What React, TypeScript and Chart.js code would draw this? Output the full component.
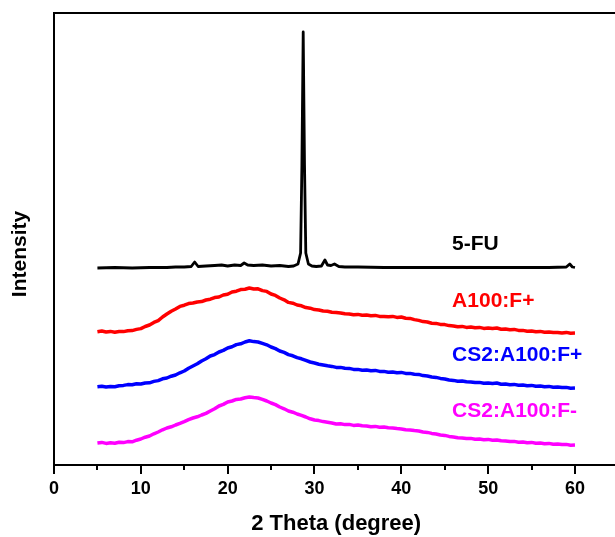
import React, { useEffect, useRef } from "react";
import { Chart, registerables } from "chart.js";

Chart.register(...registerables);

// 2θ sampling (degrees) for the three amorphous patterns
const theta = [
  5, 5.5, 6, 6.5, 7, 7.5, 8, 8.5, 9, 9.5,
  10, 10.5, 11, 11.5, 12, 12.5, 13, 13.5, 14, 14.5,
  15, 15.5, 16, 16.5, 17, 17.5, 18, 18.5, 19, 19.5,
  20, 20.5, 21, 21.5, 22, 22.5, 23, 23.5, 24, 24.5,
  25, 25.5, 26, 26.5, 27, 27.5, 28, 28.5, 29, 29.5,
  30, 30.5, 31, 31.5, 32, 32.5, 33, 33.5, 34, 34.5,
  35, 35.5, 36, 36.5, 37, 37.5, 38, 38.5, 39, 39.5,
  40, 40.5, 41, 41.5, 42, 42.5, 43, 43.5, 44, 44.5,
  45, 45.5, 46, 46.5, 47, 47.5, 48, 48.5, 49, 49.5,
  50, 50.5, 51, 51.5, 52, 52.5, 53, 53.5, 54, 54.5,
  55, 55.5, 56, 56.5, 57, 57.5, 58, 58.5, 59, 59.5,
  60,
];

const a100Fplus = [
  133.3, 134, 133, 133.6, 132.8, 133.5, 133.4, 134.2, 134.4, 135.6,
  136.4, 138.5, 140, 142.6, 144.4, 148, 151, 153.8, 156, 158.6,
  159.8, 161.4, 162, 163, 163.4, 165, 165.8, 167.4, 168, 170,
  170.8, 173, 173.8, 175.4, 175.8, 177, 176, 176.2, 174.4, 173.6,
  171, 169.6, 167, 165.2, 162.6, 161.8, 160, 159.2, 157.4, 156.8,
  155.4, 155, 154, 153.8, 152.8, 152.6, 152, 151.2, 151, 150.2,
  150.6, 149.8, 150, 149.2, 149.6, 148.6, 148.6, 148.2, 148.6, 147.6,
  148, 146.8, 146.6, 145.4, 144.6, 143.4, 143, 141.8, 141.6, 140.6,
  140.4, 139.4, 139, 138.2, 138.6, 137.6, 138, 137.2, 137.6, 136.6,
  137, 136.4, 137, 135.8, 136, 135.2, 135.6, 134.6, 134.6, 133.8,
  134, 133.2, 133.6, 132.8, 133, 132.4, 132.6, 132, 132.6, 131.8,
  132,
];

const cs2A100Fplus = [
  78.3, 78.8, 78, 78.6, 78.2, 79.2, 79.6, 80.4, 80.2, 81.2,
  81, 82, 82.2, 83.6, 84.4, 86.2, 87, 88.8, 90, 92.2,
  94, 96.8, 99, 101.2, 104, 106.2, 109, 110.4, 113, 114.6,
  117, 118.2, 120.4, 121.2, 123, 124.2, 123.4, 123, 121.6, 120.2,
  118, 116.4, 114, 112.6, 110.4, 109.2, 107.4, 106.2, 104.6, 103,
  102, 100.8, 100, 99.2, 98.6, 97.6, 97.6, 96.8, 96.6, 95.6,
  95.6, 94.8, 95, 94.2, 94.6, 93.6, 93.6, 92.8, 93, 92.2,
  92.6, 91.6, 91.6, 90.8, 90.6, 89.4, 89, 88, 87.6, 86.6,
  86, 85, 84.6, 83.8, 84, 83.2, 83, 82.4, 82.6, 81.8,
  82, 81.4, 82, 80.8, 81, 80.2, 80.6, 79.8, 80, 79.2,
  79.6, 78.8, 79, 78.2, 78.6, 77.8, 78, 77.4, 77.6, 76.8,
  77,
];

const cs2A100Fminus = [
  22, 22.6, 21.6, 22.2, 21.8, 22.8, 22.4, 23.4, 23.2, 24.8,
  26, 27.8, 29, 31.2, 33, 35.2, 37, 38.2, 40, 41.6,
  43.4, 45.4, 47, 48.2, 50, 51.6, 54, 56.2, 59, 60.6,
  63, 64, 65.6, 66, 67.2, 68, 67.4, 67, 65.6, 64,
  62, 60.4, 58, 56.2, 54, 52.8, 51, 49.6, 48, 46.2,
  45, 44.4, 43.4, 42.8, 42, 41, 41.2, 40.4, 40.6, 39.6,
  40, 39.2, 39, 38.2, 38.6, 37.8, 38, 37.2, 37, 36.4,
  36, 35.2, 35, 34.4, 34, 33, 32.6, 31.6, 31, 30,
  29.6, 28.6, 28, 27.2, 27, 26.4, 26.6, 25.8, 26, 25.2,
  25.6, 24.8, 25, 24.2, 24, 23.4, 23.6, 22.8, 23, 22.2,
  22.6, 21.8, 22, 21.2, 21.6, 20.8, 21, 20.4, 20.6, 19.8,
  20,
];

// crystalline 5-FU pattern
const fuTheta = [
  5, 7, 9, 11, 13, 14, 15, 15.8, 16.2, 16.6,
  17.5, 18.5, 19.3, 20, 20.8, 21.5, 21.9, 22.3, 23, 24,
  25, 26, 27, 27.6, 28.1, 28.4, 28.55, 28.7, 28.85, 29.0,
  29.3, 29.7, 30.2, 30.8, 31.2, 31.5, 31.9, 32.3, 32.8, 33.5,
  35, 38, 42, 46, 50, 54, 57, 59, 59.4, 59.7,
  60,
];
const fuIntensity = [
  197, 197.5, 197, 197.5, 197.5, 198, 198, 198.5, 203, 198.5,
  199, 199.5, 200, 199, 200, 199.5, 202, 200, 199.5, 200,
  199, 199.5, 198.5, 199, 201, 212, 300, 433, 300, 212,
  201, 199, 198.5, 199, 205, 200, 199.5, 201, 198.5, 198,
  198, 197.5, 197.5, 197.5, 197.5, 197.5, 197.5, 198, 201, 198,
  197.5,
];

const seriesNames = ["5-FU", "A100:F+", "CS2:A100:F+", "CS2:A100:F-"];
const seriesColors = ["#000000", "#ff0000", "#0000ff", "#ff00ff"];
const labelTheta = 45.85;
const labelLevels = [220.3, 163.3, 110, 53.3];

const xMajorTicks = [0, 10, 20, 30, 40, 50, 60];
const xMinorTicks = [5, 15, 25, 35, 45, 55];
const xTitle = "2 Theta (degree)";
const yTitle = "Intensity";

const FONT = "Arial, 'Liberation Sans', Helvetica, sans-serif";

export default function App() {
  const ref = useRef<HTMLCanvasElement>(null);

  useEffect(() => {
    const canvas = ref.current;
    if (!canvas) return;

    const overlay = {
      id: "overlay",
      afterDraw(chart: any) {
        const ctx = chart.ctx as CanvasRenderingContext2D;
        const area = chart.chartArea;
        const xs = chart.scales.x;
        const ys = chart.scales.y;
        const W = chart.width;
        ctx.save();
        ctx.strokeStyle = "#000";
        ctx.lineWidth = 2;
        ctx.lineCap = "butt";
        // frame: left, top, bottom
        ctx.beginPath();
        ctx.moveTo(area.left, area.top - 1);
        ctx.lineTo(area.left, area.bottom);
        ctx.moveTo(area.left - 1, area.top);
        ctx.lineTo(W, area.top);
        ctx.moveTo(area.left - 1, area.bottom);
        ctx.lineTo(W, area.bottom);
        ctx.stroke();
        // ticks
        ctx.beginPath();
        xMajorTicks.forEach((v) => {
          const px = Math.round(xs.getPixelForValue(v));
          ctx.moveTo(px, area.bottom);
          ctx.lineTo(px, area.bottom + 9);
        });
        xMinorTicks.forEach((v) => {
          const px = Math.round(xs.getPixelForValue(v));
          ctx.moveTo(px, area.bottom);
          ctx.lineTo(px, area.bottom + 5);
        });
        ctx.stroke();

        // series labels
        ctx.font = `bold 21px ${FONT}`;
        ctx.textAlign = "left";
        ctx.textBaseline = "middle";
        seriesNames.forEach((name, i) => {
          ctx.fillStyle = seriesColors[i];
          ctx.fillText(name, xs.getPixelForValue(labelTheta), ys.getPixelForValue(labelLevels[i]));
        });

        // y title
        ctx.translate(26, (area.top + area.bottom) / 2 + 15);
        ctx.rotate(-Math.PI / 2);
        ctx.font = `bold 21px ${FONT}`;
        ctx.fillStyle = "#000";
        ctx.textAlign = "center";
        ctx.textBaseline = "alphabetic";
        ctx.fillText(yTitle, 0, 0);
        ctx.restore();
      },
    };

    const mk = (xv: number[], yv: number[]) => xv.map((x, i) => ({ x, y: yv[i] }));

    const chart = new Chart(canvas, {
      type: "line",
      data: {
        datasets: [
          { label: seriesNames[0], data: mk(fuTheta, fuIntensity), borderColor: seriesColors[0], borderWidth: 2.8 },
          { label: seriesNames[1], data: mk(theta, a100Fplus), borderColor: seriesColors[1], borderWidth: 3.5 },
          { label: seriesNames[2], data: mk(theta, cs2A100Fplus), borderColor: seriesColors[2], borderWidth: 3.5 },
          { label: seriesNames[3], data: mk(theta, cs2A100Fminus), borderColor: seriesColors[3], borderWidth: 3.5 },
        ].map((d) => ({ ...d, pointRadius: 0, tension: 0, fill: false, borderJoinStyle: "round" as const })),
      },
      options: {
        responsive: false,
        animation: false,
        devicePixelRatio: 1,
        layout: { padding: { left: 54, top: 13, right: 21.6, bottom: 0 } },
        plugins: { legend: { display: false }, tooltip: { enabled: false } },
        scales: {
          x: {
            type: "linear",
            min: 0,
            max: 65,
            grid: { display: false, drawTicks: false },
            border: { display: false },
            afterBuildTicks: (s: any) => {
              s.ticks = xMajorTicks.map((v) => ({ value: v }));
            },
            afterFit: (s: any) => {
              s.height = 72;
            },
            ticks: {
              padding: 13,
              color: "#000",
              autoSkip: false,
              maxRotation: 0,
              font: { family: FONT, weight: "bold", size: 18 },
              callback: (v: any) => String(v),
            },
            title: {
              display: true,
              text: xTitle,
              color: "#000",
              padding: 0,
              font: { family: FONT, weight: "bold", size: 22 },
            },
          },
          y: { display: false, min: 0, max: 452 },
        },
      },
      plugins: [overlay],
    } as any);

    return () => chart.destroy();
  }, []);

  return (
    <div
      style={{
        position: "absolute",
        left: 0,
        top: 0,
        width: 615,
        height: 537,
        overflow: "hidden",
        background: "#fff",
      }}
    >
      <canvas ref={ref} width={640} height={537} style={{ display: "block" }} />
    </div>
  );
}
